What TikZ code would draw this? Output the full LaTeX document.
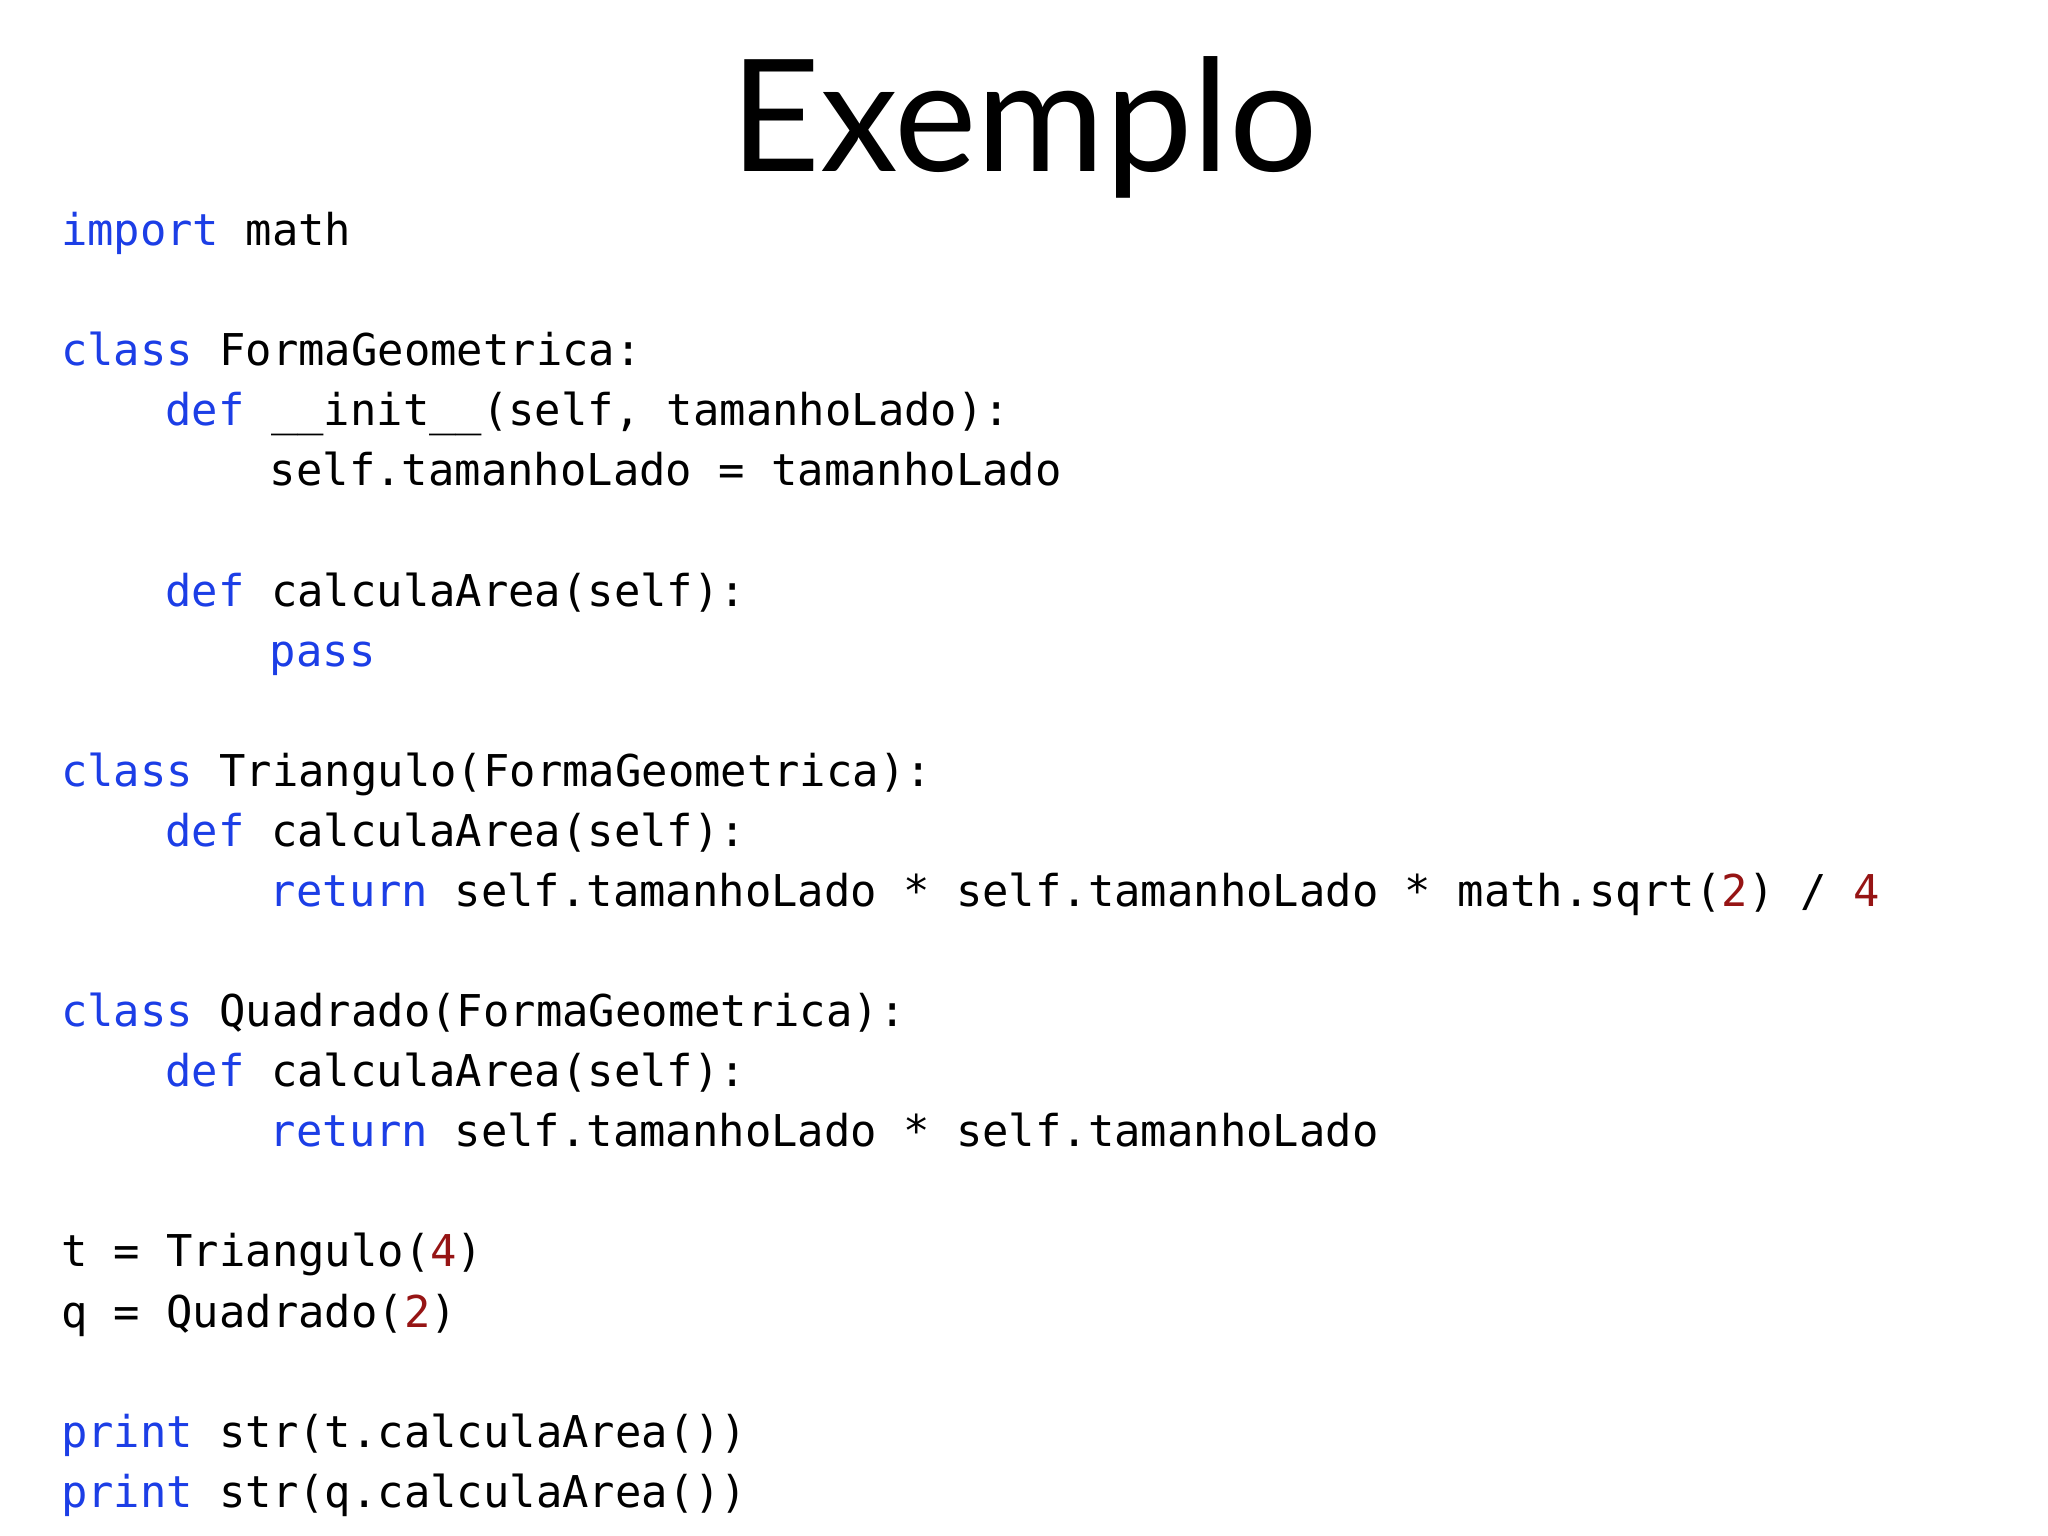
\documentclass[tikz,border=0pt]{standalone}
\usepackage{fontspec}
\setmonofont{DejaVu Sans Mono}
\newfontfamily\titlefont{Lato}
\definecolor{kw}{RGB}{28,62,230}
\definecolor{num}{RGB}{150,20,20}
\newcommand{\kw}[1]{\textcolor{kw}{#1}}
\newcommand{\nm}[1]{\textcolor{num}{#1}}
\begin{document}
\begin{tikzpicture}[x=1cm,y=1cm,
  code/.style={anchor=base west,inner sep=0pt,font=\ttfamily\fontsize{9.55pt}{11pt}\selectfont}]
\useasboundingbox (0,0) rectangle (15.68,-11.76);
\fill[white] (0,0) rectangle (15.68,-11.76);
\node[anchor=base,inner sep=0pt,font=\titlefont\fontsize{34pt}{40pt}\selectfont] (title) at (7.84,-1.31) {Exemplo};
\node[code] (l1) at (0.46,-1.88) {\kw{import} math};
\node[code] (l2) at (0.46,-2.80) {\kw{class} FormaGeometrica:};
\node[code] (l3) at (1.26,-3.26) {\kw{def} \_\_init\_\_(self, tamanhoLado):};
\node[code] (l4) at (2.06,-3.72) {self.tamanhoLado = tamanhoLado};
\node[code] (l5) at (1.26,-4.64) {\kw{def} calculaArea(self):};
\node[code] (l6) at (2.06,-5.10) {\kw{pass}};
\node[code] (l7) at (0.46,-6.02) {\kw{class} Triangulo(FormaGeometrica):};
\node[code] (l8) at (1.26,-6.48) {\kw{def} calculaArea(self):};
\node[code] (l9) at (2.06,-6.94) {\kw{return} self.tamanhoLado * self.tamanhoLado * math.sqrt(\nm{2}) / \nm{4}};
\node[code] (l10) at (0.46,-7.86) {\kw{class} Quadrado(FormaGeometrica):};
\node[code] (l11) at (1.26,-8.32) {\kw{def} calculaArea(self):};
\node[code] (l12) at (2.06,-8.78) {\kw{return} self.tamanhoLado * self.tamanhoLado};
\node[code] (l13) at (0.46,-9.70) {t = Triangulo(\nm{4})};
\node[code] (l14) at (0.46,-10.16) {q = Quadrado(\nm{2})};
\node[code] (l15) at (0.46,-11.08) {\kw{print} str(t.calculaArea())};
\node[code] (l16) at (0.46,-11.54) {\kw{print} str(q.calculaArea())};
\end{tikzpicture}
\end{document}
